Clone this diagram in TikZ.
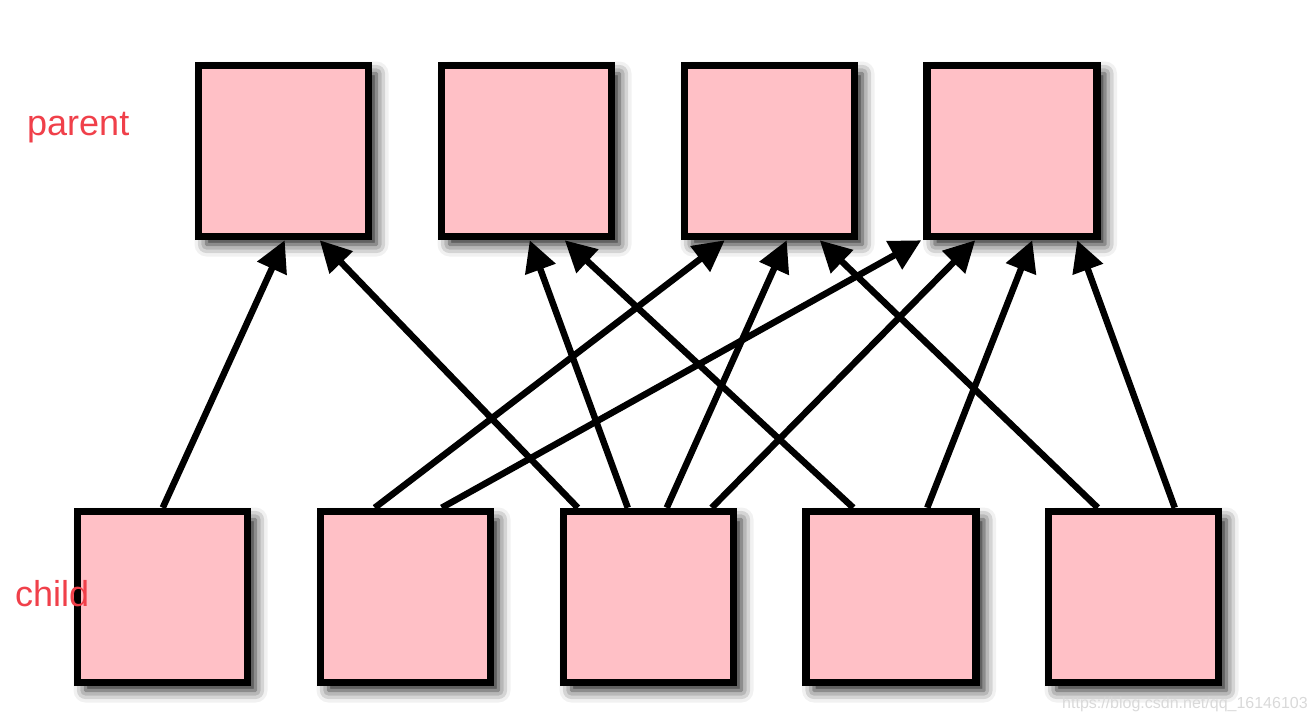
\documentclass[tikz,border=0pt]{standalone}
\usepackage{fontspec}
\setmainfont{Liberation Sans}
\usetikzlibrary{arrows.meta,shadows.blur}
\definecolor{boxpink}{RGB}{255,192,198}
\definecolor{labelred}{RGB}{240,64,74}
\begin{document}
\begin{tikzpicture}[x=1pt,y=-1pt,
  sq/.style={draw=black,line width=7.5pt,fill=boxpink,minimum width=170pt,minimum height=171pt,inner sep=0pt,
    blur shadow={shadow xshift=8pt,shadow yshift=-8pt,shadow blur radius=12pt,shadow opacity=90}},
  link/.style={line width=6.5pt,-{Triangle[length=31pt,width=31pt]}},
  lab/.style={text=labelred,font=\fontsize{36}{42}\selectfont,anchor=base west,inner sep=0pt}]
\useasboundingbox (0,0) rectangle (1316,722);
% parents
\node[sq] (p1) at (283.5,151) {};
\node[sq] (p2) at (526.5,151) {};
\node[sq] (p3) at (769.5,151) {};
\node[sq] (p4) at (1012,151) {};
% children
\node[sq] (c1) at (162.5,597) {};
\node[sq] (c2) at (405.5,597) {};
\node[sq] (c3) at (648.5,597) {};
\node[sq] (c4) at (891,597) {};
\node[sq] (c5) at (1133.5,597) {};
% labels
\node[lab] (lp) at (27,136) {parent};
\node[lab] (lc) at (15,606) {child};
\node[text=black!15,font=\fontsize{16}{18}\selectfont,anchor=base west,inner sep=0pt] (wm) at (1062,708) {https://blog.csdn.net/qq\_16146103};
% connectors
\draw[link] ([xshift=89pt]c1.north west) -- ([xshift=90pt]p1.south west);
\draw[link] ([xshift=18pt]c3.north west) -- ([xshift=125pt]p1.south west);
\draw[link] ([xshift=68pt]c3.north west) -- ([xshift=92pt]p2.south west);
\draw[link] ([xshift=51pt]c4.north west) -- ([xshift=127pt]p2.south west);
\draw[link] ([xshift=58pt]c2.north west) -- ([xshift=44pt]p3.south west);
\draw[link] ([xshift=107pt]c3.north west) -- ([xshift=106pt]p3.south west);
\draw[link] ([xshift=53pt]c5.north west) -- ([xshift=139pt]p3.south west);
\draw[link] ([xshift=125pt]c2.north west) -- ([xshift=-2pt]p4.south west);
\draw[link] ([xshift=152pt]c3.north west) -- ([xshift=52pt]p4.south west);
\draw[link] ([xshift=125pt]c4.north west) -- ([xshift=109pt]p4.south west);
\draw[link] ([xshift=130pt]c5.north west) -- ([xshift=154pt]p4.south west);
\end{tikzpicture}
\end{document}
